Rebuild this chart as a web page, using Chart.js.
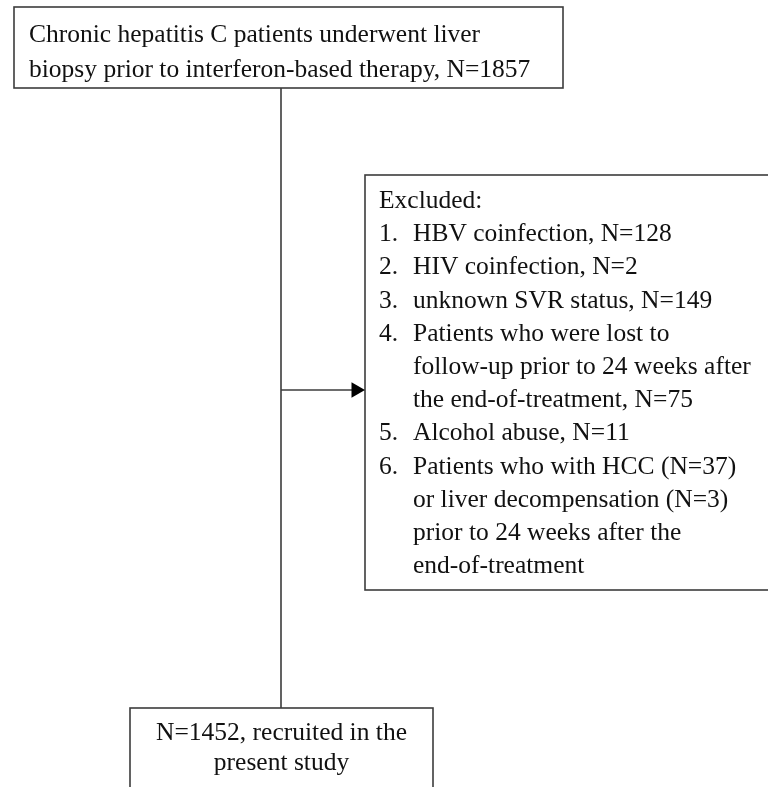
<!DOCTYPE html>
<html>
<head>
<meta charset="utf-8">
<script src="https://cdn.jsdelivr.net/npm/chart.js@4.4.1/dist/chart.umd.min.js"></script>
<style>
  html, body { margin: 0; padding: 0; background: #fff; }
  canvas { display: block; }
</style>
</head>
<body>
<canvas id="flow" width="768" height="787"></canvas>
<script>
// flow data
const screenedN = 1857;
const recruitedN = 1452;
const topLines = ['Chronic hepatitis C patients underwent liver', 'biopsy prior to interferon-based therapy, N=' + screenedN];
const excludedTitle = 'Excluded:';
const excludedItems = [
    ['HBV coinfection, N=128'],
    ['HIV coinfection, N=2'],
    ['unknown SVR status, N=149'],
    ['Patients who were lost to', 'follow-up prior to 24 weeks after', 'the end-of-treatment, N=75'],
    ['Alcohol abuse, N=11'],
    ['Patients who with HCC (N=37)', 'or liver decompensation (N=3)', 'prior to 24 weeks after the', 'end-of-treatment']
];
const bottomLines = ['N=' + recruitedN + ', recruited in the', 'present study'];

// layout (page units, same as pixels)
const layout = {
    top:    { x0: 14,  y0: 7,   x1: 563, y1: 88 },
    excl:   { x0: 365, y0: 175, x1: 790, y1: 590 },
    bottom: { x0: 130, y0: 708, x1: 433, y1: 800 },
    trunkX: 281,
    branchY: 390
};

const lineColor = '#3c3c3c';
const textColor = '#111';
const font = '25.5px "Liberation Serif", "Times New Roman", serif';

const boxesPlugin = {
    id: 'boxes',
    beforeDatasetsDraw(chart) {
        const { ctx, scales: { x, y } } = chart;
        ctx.save();
        ctx.strokeStyle = lineColor;
        ctx.lineWidth = 1.6;
        ['top', 'excl', 'bottom'].forEach(k => {
            const b = layout[k];
            const px = x.getPixelForValue(b.x0), py = y.getPixelForValue(b.y0);
            ctx.strokeRect(px, py, x.getPixelForValue(b.x1) - px, y.getPixelForValue(b.y1) - py);
        });
        ctx.restore();
    },
    afterDatasetsDraw(chart) {
        const { ctx, scales: { x, y } } = chart;
        ctx.save();
        ctx.fillStyle = textColor;
        ctx.font = font;
        ctx.textBaseline = 'alphabetic';

        // top box
        ctx.textAlign = 'left';
        topLines.forEach((t, i) => {
            ctx.fillText(t, x.getPixelForValue(29), y.getPixelForValue(42 + i * 34.5));
        });

        // excluded box
        let row = 0;
        const rowY = r => y.getPixelForValue(208 + r * 33.2);
        ctx.fillText(excludedTitle, x.getPixelForValue(379), rowY(row++));
        excludedItems.forEach((item, i) => {
            ctx.fillText((i + 1) + '.', x.getPixelForValue(379), rowY(row));
            item.forEach(t => {
                ctx.fillText(t, x.getPixelForValue(413), rowY(row++));
            });
        });

        // bottom box
        ctx.textAlign = 'center';
        const cx = x.getPixelForValue((layout.bottom.x0 + layout.bottom.x1) / 2);
        bottomLines.forEach((t, i) => {
            ctx.fillText(t, cx, y.getPixelForValue(740 + i * 30));
        });
        ctx.restore();
    }
};

const ctx = document.getElementById('flow').getContext('2d');

const flow = new Chart(ctx, {
    type: 'scatter',
    data: {
        datasets: [{
            // main vertical connector
            data: [{ x: layout.trunkX, y: layout.top.y1 }, { x: layout.trunkX, y: layout.bottom.y0 }],
            showLine: true,
            borderColor: lineColor,
            borderWidth: 1.6,
            pointRadius: 0
        }, {
            // branch to exclusions, arrow head at the end
            data: [{ x: layout.trunkX, y: layout.branchY }, { x: layout.excl.x0 - 9, y: layout.branchY }],
            showLine: true,
            borderColor: lineColor,
            borderWidth: 1.6,
            pointStyle: 'triangle',
            rotation: 90,
            pointRadius: [0, 9],
            pointBackgroundColor: '#000',
            pointBorderColor: '#000',
            pointBorderWidth: 0
        }]
    },
    options: {
        responsive: false,
        animation: false,
        devicePixelRatio: 1,
        layout: { padding: 0, autoPadding: false },
        scales: {
            x: { type: 'linear', min: 0, max: 768, display: false },
            y: { type: 'linear', min: 0, max: 787, reverse: true, display: false }
        },
        plugins: {
            legend: { display: false },
            tooltip: { enabled: false }
        }
    },
    plugins: [boxesPlugin]
});
</script>
</body>
</html>
